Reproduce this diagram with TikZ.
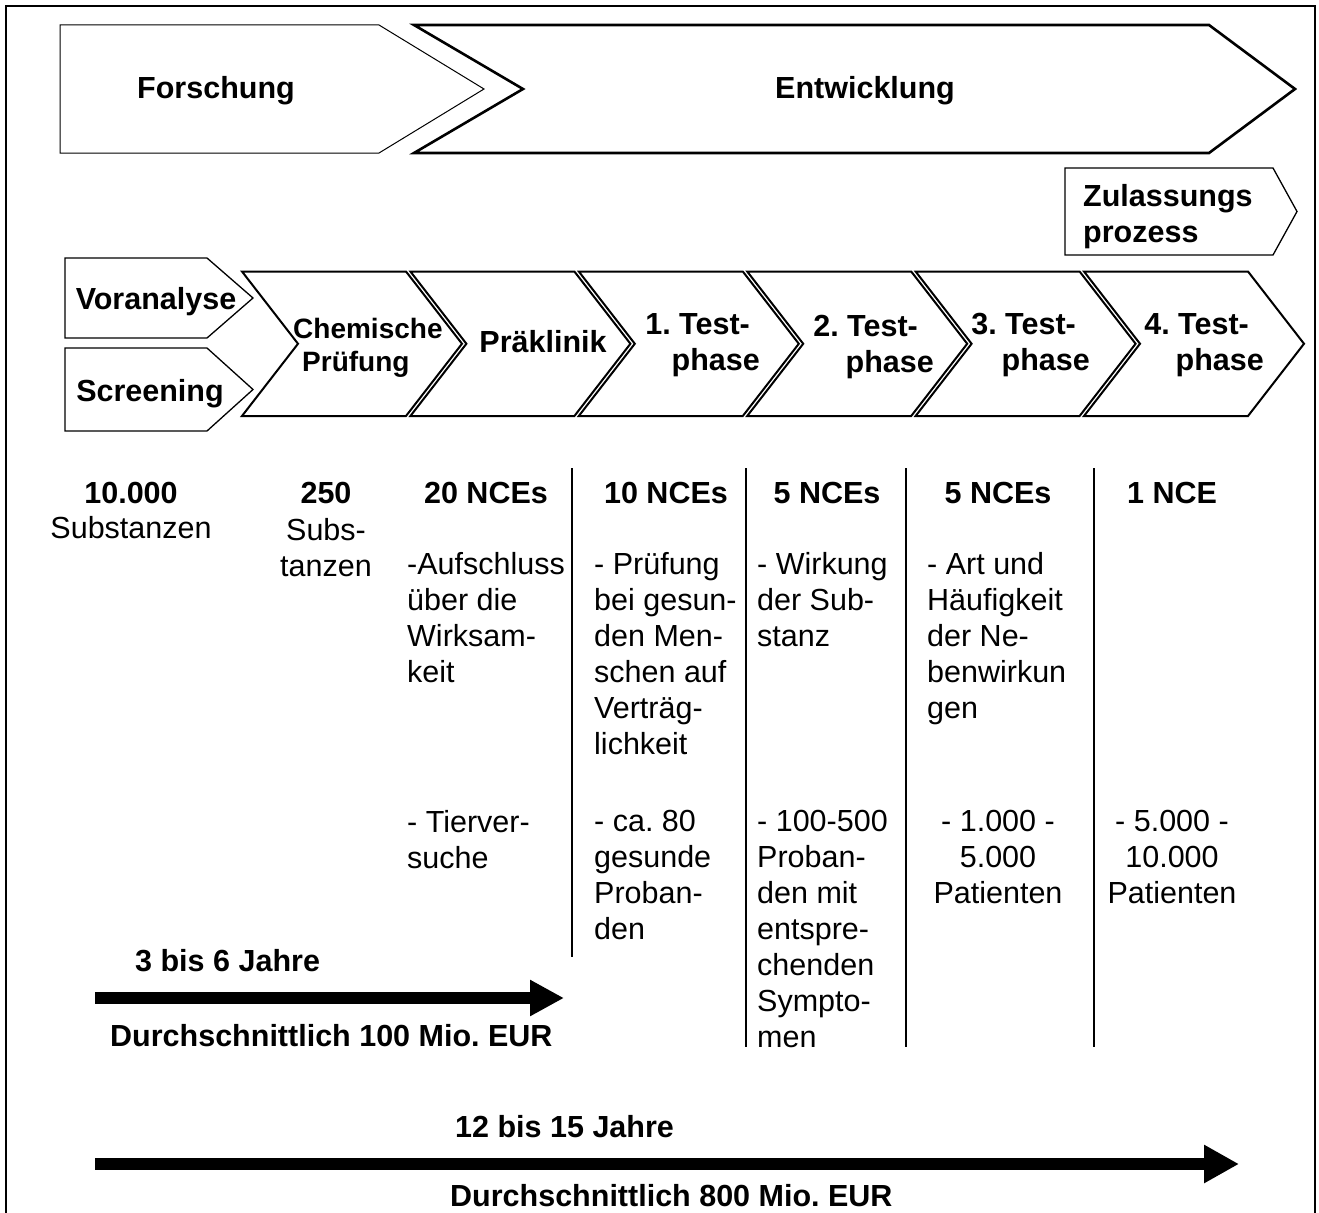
\documentclass[tikz,border=0pt]{standalone}
\usepackage{fontspec}
\setmainfont{Liberation Sans}
\usetikzlibrary{arrows.meta}
\frenchspacing
\begin{document}
\frenchspacing
\begin{tikzpicture}[x=1pt,y=-1pt,
  lbl/.style={font=\bfseries\fontsize{30.5}{36}\selectfont, inner sep=0pt},
  txt/.style={font=\fontsize{30.5}{36}\selectfont, inner sep=0pt},
  blk/.style={txt, align=left, anchor=north west},
  shp/.style={draw=black, line width=#1, line join=miter},
  sepline/.style={draw=black, line width=1.2pt},
  bigarrow/.style={line width=12pt, -{Triangle[length=34pt,width=34pt]}},
  bigarrowb/.style={line width=12pt, -{Triangle[length=35pt,width=36pt]}}
]
\useasboundingbox (0,0) rectangle (1319,1212);
% frame
\draw[line width=2.5pt, line join=miter] (6,1216) -- (6,6) -- (1315,6) -- (1315,1216);

% top row
\draw[shp=1pt] (60,25) -- (379,25) -- (484,89) -- (379,153) -- (60,153) -- cycle;
\draw[shp=2.6pt] (414,25) -- (1209,25) -- (1295,89) -- (1209,153) -- (414,153) -- (523,89) -- cycle;
\node[lbl, anchor=base] (forsch) at (216,99) {Forschung};
\node[lbl, anchor=base] (entw) at (865,99) {Entwicklung};

% Zulassungsprozess
\draw[shp=1.3pt] (1065,168) -- (1273,168) -- (1297,211.5) -- (1273,255) -- (1065,255) -- cycle;
\node[lbl, align=left, anchor=north west] (zul) at (1083,184) {Zulassungs\\prozess};

% Voranalyse / Screening
\draw[shp=1.3pt] (65,258) -- (207,258) -- (253,298) -- (207,338) -- (65,338) -- cycle;
\draw[shp=1.3pt] (65,348) -- (207,348) -- (253,389.5) -- (207,431) -- (65,431) -- cycle;
\node[lbl, anchor=base] (vor) at (156,309) {Voranalyse};
\node[lbl, anchor=base] (scr) at (150,401) {Screening};

% chevrons
\foreach \L in {242,410.4,578.8,747.2,915.6,1084}{
  \draw[shp=2pt] (\L,271.5) -- ++(164,0) -- ++(56,72.25) -- ++(-56,72.25) -- ++(-164,0) -- ++(56,-72.25) -- cycle;
}
\node[font=\bfseries\fontsize{28}{33}\selectfont, inner sep=0pt, align=left, anchor=north west] (chem) at (293,318) {Chemische\\\hspace*{9pt}Prüfung};
\node[lbl, anchor=base] (prae) at (543,352) {Präklinik};
\node[lbl, align=right, anchor=north east] (t1) at (760,313) {1. Test-\rule{10pt}{0pt}\\phase};
\node[lbl, align=right, anchor=north east] (t2) at (934,315) {2. Test-\rule{16pt}{0pt}\\phase};
\node[lbl, align=right, anchor=north east] (t3) at (1090,313) {3. Test-\rule{14pt}{0pt}\\phase};
\node[lbl, align=right, anchor=north east] (t4) at (1264,313) {4. Test-\rule{15pt}{0pt}\\phase};

% counts
\node[lbl, anchor=base] (n1) at (131,503) {10.000};
\node[txt, anchor=base] (n1b) at (131,538) {Substanzen};
\node[lbl, anchor=base] (n2) at (326,503) {250};
\node[txt, align=center, anchor=north] (n2b) at (326,518) {Subs-\\tanzen};
\node[lbl, anchor=base] (n3) at (486,503) {20 NCEs};
\node[lbl, anchor=base] (n4) at (666,503) {10 NCEs};
\node[lbl, anchor=base] (n5) at (827,503) {5 NCEs};
\node[lbl, anchor=base] (n6) at (998,503) {5 NCEs};
\node[lbl, anchor=base] (n7) at (1172,503) {1 NCE};

% separators
\coordinate (s1t) at (572,468); \coordinate (s1b) at (572,957);
\coordinate (s2t) at (746,468); \coordinate (s2b) at (746,1047);
\coordinate (s3t) at (906,468); \coordinate (s3b) at (906,1047);
\coordinate (s4t) at (1094,468); \coordinate (s4b) at (1094,1047);
\draw[sepline] (s1t) -- (s1b);
\draw[sepline] (s2t) -- (s2b);
\draw[sepline] (s3t) -- (s3b);
\draw[sepline] (s4t) -- (s4b);

% descriptions
\node[blk] (d3) at (407,552) {-Aufschluss\\über die\\Wirksam-\\keit};
\node[blk] (d4) at (594,552) {- Prüfung\\bei gesun-\\den Men-\\schen auf\\Verträg-\\lichkeit};
\node[blk] (d5) at (757,552) {- Wirkung\\der Sub-\\stanz};
\node[blk] (d6) at (927,552) {- Art und\\Häufigkeit\\der Ne-\\benwirkun\\gen};

\node[blk] (e3) at (407,810) {- Tierver-\\suche};
\node[blk] (e4) at (594,810) {- ca. 80\\gesunde\\Proban-\\den};
\begin{scope}
  \clip (748,790) rectangle (905,1047);
  \node[blk] (e5) at (757,810) {- 100-500\\Proban-\\den mit\\entspre-\\chenden\\Sympto-\\men};
\end{scope}
\node[txt, align=center, anchor=north] (e6) at (998,810) {- 1.000 -\\5.000\\Patienten};
\node[txt, align=center, anchor=north] (e7) at (1172,810) {- 5.000 -\\10.000\\Patienten};

% bottom arrows
\node[lbl, anchor=base west] (j1) at (135,971) {3 bis 6 Jahre};
\coordinate (a1s) at (95,998); \coordinate (a1e) at (564,998);
\draw[bigarrow] (a1s) -- (a1e);
\node[lbl, anchor=base west] (c1) at (110,1046) {Durchschnittlich 100 Mio. EUR};

\node[lbl, anchor=base west] (j2) at (455,1137) {12 bis 15 Jahre};
\coordinate (a2s) at (95,1164); \coordinate (a2e) at (1239,1164);
\draw[bigarrowb] (a2s) -- (a2e);
\node[lbl, anchor=base west] (c2) at (450,1206) {Durchschnittlich 800 Mio. EUR};
\end{tikzpicture}
\end{document}
